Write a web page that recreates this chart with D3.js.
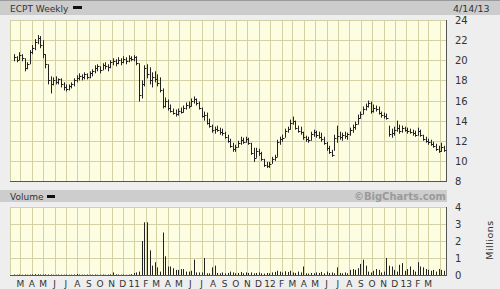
<!DOCTYPE html>
<html>
<head>
<meta charset="utf-8">
<script src="https://cdn.jsdelivr.net/npm/d3@7"></script>
<style>
  body { margin: 0; background: #eeeeee; }
  text { font-family: "DejaVu Sans", sans-serif; fill: #333; }
</style>
</head>
<body>
<div id="chart"></div>
<script>
// weekly bars, ECPT, Feb 2010 - Apr 2013 (one value per week)
const highs = [
  20.6, 20.4, 20.8, 20.6, 20.2, 19.8, 21.0, 21.5, 22.1, 22.5, 22.4, 22.0, 20.6, 19.6, 18.4, 18.3,
  18.4, 18.2, 18.2, 17.8, 17.6, 17.6, 17.8, 18.2, 18.5, 18.7, 18.6, 18.8, 18.7, 18.9, 19.1, 19.5,
  19.6, 19.4, 19.7, 19.8, 19.6, 20.0, 20.2, 20.1, 20.3, 20.2, 20.4, 20.3, 20.5, 20.4, 20.5, 20.4,
  19.7, 18.0, 19.5, 19.6, 19.3, 18.8, 18.9, 18.6, 18.3, 17.2, 16.3, 16.1, 15.6, 15.2, 15.1, 15.2,
  15.3, 15.5, 15.8, 15.9, 16.2, 16.4, 16.2, 15.9, 15.3, 14.9, 14.8, 14.2, 13.6, 13.4, 13.5, 13.3,
  13.2, 12.9, 12.6, 12.2, 11.8, 11.6, 12.0, 12.4, 12.3, 12.4, 12.3, 11.8, 11.3, 11.3, 11.2, 10.9,
  10.2, 9.9, 9.9, 10.4, 10.6, 12.1, 12.4, 12.6, 13.2, 13.4, 14.1, 14.4, 14.0, 13.5, 13.4, 12.9,
  12.5, 12.4, 12.9, 13.1, 13.0, 12.9, 12.8, 12.4, 11.9, 11.5, 11.1, 12.6, 13.5, 12.9, 12.8, 12.9,
  12.8, 13.3, 13.6, 13.9, 14.6, 14.9, 15.4, 15.7, 16.0, 15.9, 15.6, 15.5, 15.4, 14.9, 14.8, 14.7,
  13.5, 13.2, 13.4, 14.0, 13.6, 13.5, 13.4, 13.3, 13.2, 13.1, 13.0, 13.3, 13.1, 12.6, 12.4, 12.2,
  12.1, 11.9, 11.7, 11.5, 11.8, 11.5
];
const lows = [
  19.9, 19.8, 20.0, 19.9, 18.9, 19.1, 19.6, 20.6, 21.0, 21.6, 21.2, 20.2, 19.2, 17.6, 16.7, 17.5,
  17.6, 17.6, 17.3, 17.0, 16.9, 17.0, 17.2, 17.4, 17.8, 18.0, 18.0, 18.1, 18.1, 18.2, 18.4, 18.7,
  18.9, 18.7, 19.0, 19.1, 18.9, 19.2, 19.5, 19.4, 19.6, 19.5, 19.7, 19.6, 19.8, 19.9, 19.9, 19.5,
  15.9, 16.2, 17.4, 18.2, 17.6, 17.3, 17.8, 17.4, 16.8, 15.2, 15.3, 15.0, 14.8, 14.6, 14.4, 14.5,
  14.7, 14.8, 15.1, 15.2, 15.4, 15.7, 15.5, 15.1, 14.3, 14.0, 13.6, 13.3, 12.8, 12.7, 12.9, 12.6,
  12.5, 12.2, 11.8, 11.3, 10.9, 10.9, 11.3, 11.6, 11.7, 11.8, 11.6, 10.6, 9.9, 10.3, 10.5, 10.0,
  9.4, 9.3, 9.3, 9.7, 10.0, 10.4, 11.6, 11.9, 12.3, 12.8, 13.1, 13.6, 13.1, 12.8, 12.6, 12.1,
  11.9, 11.8, 12.0, 12.4, 12.3, 12.2, 11.9, 11.6, 11.0, 10.7, 10.4, 11.0, 11.8, 12.1, 12.0, 12.2,
  12.1, 12.5, 12.8, 13.1, 13.6, 14.2, 14.6, 15.0, 15.3, 14.7, 14.8, 14.9, 14.6, 14.3, 14.2, 14.1,
  12.4, 12.3, 12.5, 12.9, 12.7, 12.8, 12.9, 12.7, 12.7, 12.5, 12.4, 12.5, 12.4, 12.0, 11.8, 11.6,
  11.5, 11.3, 11.0, 10.8, 10.9, 10.9
];
const closes = [
  20.3, 20.0, 20.5, 20.2, 19.2, 19.6, 20.8, 21.2, 21.8, 22.2, 21.5, 20.6, 19.6, 18.0, 17.6, 18.0,
  17.8, 18.1, 17.6, 17.3, 17.1, 17.4, 17.6, 18.0, 18.2, 18.4, 18.3, 18.6, 18.3, 18.7, 18.9, 19.2,
  19.4, 19.0, 19.5, 19.4, 19.3, 19.8, 19.9, 19.7, 20.0, 19.8, 20.1, 19.9, 20.2, 20.1, 20.3, 19.7,
  16.5, 17.6, 19.2, 18.6, 18.0, 18.3, 18.1, 17.7, 17.0, 15.5, 16.0, 15.3, 15.0, 14.8, 14.7, 15.0,
  14.9, 15.3, 15.6, 15.5, 16.0, 16.1, 15.8, 15.3, 14.5, 14.6, 13.8, 13.5, 13.1, 13.2, 13.1, 12.9,
  12.8, 12.4, 12.0, 11.5, 11.2, 11.4, 11.8, 12.1, 11.9, 12.2, 11.8, 10.8, 10.3, 11.0, 10.8, 10.2,
  9.6, 9.5, 9.7, 10.2, 10.4, 11.9, 12.2, 12.3, 13.0, 13.2, 13.8, 14.0, 13.3, 13.0, 12.9, 12.4,
  12.2, 12.1, 12.7, 12.9, 12.6, 12.4, 12.2, 11.8, 11.3, 10.9, 10.6, 12.3, 12.5, 12.4, 12.6, 12.5,
  12.7, 13.1, 13.4, 13.7, 14.3, 14.7, 15.2, 15.5, 15.8, 15.0, 15.3, 15.2, 14.8, 14.6, 14.5, 14.3,
  12.7, 12.8, 13.1, 13.3, 13.0, 13.3, 13.1, 13.0, 12.9, 12.8, 12.6, 13.0, 12.6, 12.2, 12.0, 11.9,
  11.7, 11.5, 11.2, 11.0, 11.4, 11.1
];
// weekly volume, millions
const volumes = [
  0.03, 0.02, 0.03, 0.02, 0.03, 0.02, 0.03, 0.04, 0.05, 0.04, 0.03, 0.03, 0.04, 0.03, 0.03, 0.02,
  0.02, 0.03, 0.02, 0.02, 0.03, 0.02, 0.02, 0.03, 0.06, 0.03, 0.02, 0.02, 0.03, 0.02, 0.02, 0.03,
  0.02, 0.02, 0.03, 0.02, 0.03, 0.04, 0.15, 0.04, 0.03, 0.02, 0.03, 0.02, 0.03, 0.05, 0.12, 0.15,
  0.2, 2.0, 3.1, 3.1, 1.45, 0.55, 0.75, 0.45, 0.2, 2.5, 1.1, 0.5, 0.5, 0.4, 0.3, 0.3,
  0.35, 0.35, 0.2, 0.2, 0.25, 0.9, 0.15, 0.15, 0.15, 1.0, 0.1, 0.1, 0.45, 0.55, 0.12, 0.1,
  0.15, 0.1, 0.12, 0.2, 0.15, 0.1, 0.12, 0.18, 0.1, 0.15, 0.12, 0.15, 0.1, 0.12, 0.15, 0.1,
  0.08, 0.12, 0.1, 0.15, 0.18, 0.25, 0.2, 0.15, 0.22, 0.18, 0.25, 0.15, 0.12, 0.2, 0.15, 0.5,
  0.1, 0.08, 0.12, 0.1, 0.15, 0.12, 0.18, 0.1, 0.2, 0.12, 0.15, 0.1, 0.45, 0.12, 0.1, 0.15,
  0.1, 0.3, 0.35, 0.3, 0.4, 0.65, 0.9, 0.55, 0.2, 0.15, 0.25, 0.35, 0.3, 0.15, 0.2, 1.0,
  0.55, 0.5, 0.3, 0.2, 0.6, 0.7, 0.25, 0.35, 0.5, 0.3, 0.2, 0.75, 0.5, 0.45, 0.35, 0.3,
  0.25, 0.3, 0.2, 0.35, 0.3, 0.25
];
const priceTicks = [8, 10, 12, 14, 16, 18, 20, 22, 24];
const volumeTicks = [0, 1, 2, 3, 4];

const width = 500, height = 289;
const left = 10, right = 446;
const pTop = 20, pBottom = 181;
const vTop = 207, vBottom = 275;

const dates = d3.timeFriday.range(new Date(2010, 1, 12), new Date(2013, 3, 13));
const bars = dates.map((d, i) => ({date: d, high: highs[i], low: lows[i], close: closes[i], vol: volumes[i]}));

const x = d3.scaleTime()
    .domain([new Date(2010, 1, 1), new Date(2013, 3, 18)])
    .range([left, right]);
const yP = d3.scaleLinear().domain([8, 24]).range([pBottom, pTop]);
const yV = d3.scaleLinear().domain([0, 4]).range([vBottom, vTop]);

const months = d3.timeMonth.range(new Date(2010, 1, 1), new Date(2013, 3, 18));

const svg = d3.select("#chart").append("svg")
    .attr("width", width)
    .attr("height", height);

svg.append("rect").attr("width", width).attr("height", height).attr("fill", "#eeeeee");

// header bars
svg.append("rect").attr("x", 0).attr("y", 1).attr("width", width).attr("height", 14).attr("fill", "#cccccc");
svg.append("rect").attr("x", 0).attr("y", 0).attr("width", width).attr("height", 1).attr("fill", "#9a9a9a");
svg.append("rect").attr("x", 0).attr("y", 190).attr("width", right + 1).attr("height", 12).attr("fill", "#cdcdcd");

svg.append("text").attr("x", 10).attr("y", 12).attr("font-size", 9)
    .text("ECPT Weekly");
svg.append("rect").attr("x", 73).attr("y", 6).attr("width", 9).attr("height", 3).attr("fill", "#111");
svg.append("text").attr("x", 453).attr("y", 12).attr("font-size", 9.5)
    .text("4/14/13");

svg.append("text").attr("x", 10).attr("y", 200).attr("font-size", 9)
    .text("Volume");
svg.append("rect").attr("x", 47).attr("y", 195).attr("width", 8).attr("height", 3).attr("fill", "#111");
svg.append("text").attr("x", right).attr("y", 200).attr("font-size", 10).attr("font-weight", "bold")
    .attr("text-anchor", "end").style("fill", "#9a9a9a").text("\u00A9BigCharts.com");

function panel(top, bottom, yScale, ticks) {
    const g = svg.append("g");
    g.append("rect").attr("x", left).attr("y", top).attr("width", right - left).attr("height", bottom - top)
        .attr("fill", "#fdfde2");
    g.selectAll(".vg").data(months).join("line")
        .attr("x1", d => Math.round(x(d)) + 0.5).attr("x2", d => Math.round(x(d)) + 0.5)
        .attr("y1", top).attr("y2", bottom)
        .attr("stroke", "#d4d2a4").attr("stroke-width", 1);
    g.selectAll(".hg").data(ticks).join("line")
        .attr("x1", left).attr("x2", right)
        .attr("y1", d => Math.round(yScale(d)) + 0.5).attr("y2", d => Math.round(yScale(d)) + 0.5)
        .attr("stroke", "#d4d2a4").attr("stroke-width", 1);
    // dark bottom & right border
    g.append("line").attr("x1", left).attr("x2", right + 1).attr("y1", bottom + 0.5).attr("y2", bottom + 0.5)
        .attr("stroke", "#555");
    g.append("line").attr("x1", right + 0.5).attr("x2", right + 0.5).attr("y1", top).attr("y2", bottom + 1)
        .attr("stroke", "#555");
    g.selectAll(".yl").data(ticks).join("text")
        .attr("x", 455).attr("y", d => yScale(d) + 4)
        .attr("font-size", 10)
        .text(d => d);
}

panel(pTop, pBottom, yP, priceTicks);
panel(vTop, vBottom, yV, volumeTicks);

// price bars: high-low line with close tick
const pb = svg.append("g").attr("stroke", "#222").attr("stroke-width", 1);
pb.selectAll(".hl").data(bars).join("line")
    .attr("x1", d => Math.round(x(d.date)) + 0.5).attr("x2", d => Math.round(x(d.date)) + 0.5)
    .attr("y1", d => yP(d.high)).attr("y2", d => yP(d.low));
pb.selectAll(".cl").data(bars).join("line")
    .attr("x1", d => Math.round(x(d.date)) + 1).attr("x2", d => Math.round(x(d.date)) + 2.5)
    .attr("y1", d => Math.round(yP(d.close)) + 0.5).attr("y2", d => Math.round(yP(d.close)) + 0.5);

// volume bars
svg.append("g").attr("stroke", "#222").attr("stroke-width", 1)
    .selectAll("line").data(bars).join("line")
    .attr("x1", d => Math.round(x(d.date)) + 0.5).attr("x2", d => Math.round(x(d.date)) + 0.5)
    .attr("y1", vBottom).attr("y2", d => yV(d.vol));

// month labels, Mar 2010 - Mar 2013
const fmt = d => d.getMonth() === 0 ? d3.timeFormat("%y")(d) : d3.timeFormat("%b")(d).charAt(0);
svg.selectAll(".ml").data(months.filter(d => d >= new Date(2010, 2, 1) && d < new Date(2013, 3, 1))).join("text")
    .attr("x", d => x(d)).attr("y", 287)
    .attr("font-size", 9).attr("text-anchor", "middle")
    .text(fmt);

svg.append("text")
    .attr("transform", "translate(493,240) rotate(-90)")
    .attr("font-size", 9.5).attr("text-anchor", "middle").style("letter-spacing", "0.5px")
    .text("Millions");
</script>
</body>
</html>
